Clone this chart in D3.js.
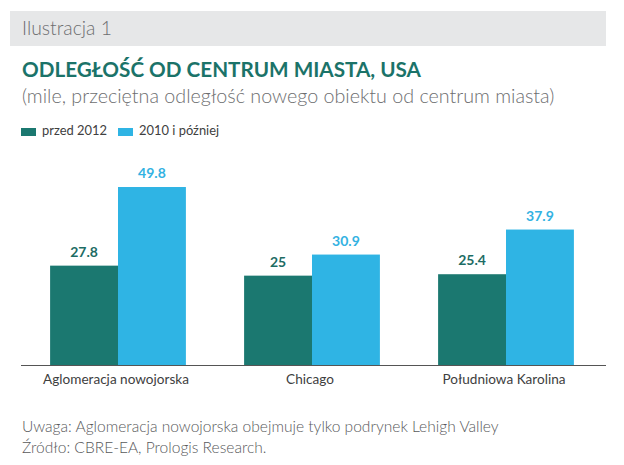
<!DOCTYPE html>
<html><head><meta charset="utf-8">
<script src="https://cdn.jsdelivr.net/npm/d3@7"></script>
<style>
html,body{margin:0;padding:0;background:#fff;}
svg{display:block;font-family:Lato, "Open Sans", sans-serif;}
</style></head>
<body><svg id="chart" width="624" height="465"></svg>
<script>
const categories = ["Aglomeracja nowojorska", "Chicago", "Południowa Karolina"];
const seriesNames = ["przed 2012", "2010 i później"];
const before2012 = [27.8, 25, 25.4];
const after2010 = [49.8, 30.9, 37.9];
const valueLabels = [["27.8","25","25.4"],["49.8","30.9","37.9"]];
const colors = ["#1b7870", "#2fb4e4"];
const labelColors = ["#1d6c64", "#33b2e2"];

const svg = d3.select("#chart");

// scale font size so that text spans target width; returns the new size
function fit(sel, target){
  const fs = parseFloat(sel.attr("font-size"));
  const w = sel.node().getComputedTextLength();
  const nfs = w > 0 ? +(fs*target/w).toFixed(2) : fs;
  sel.attr("font-size", nfs);
  return nfs;
}

// header band
svg.append("rect").attr("x",10).attr("y",11).attr("width",596).attr("height",35).attr("fill","#e6e7e8");
fit(svg.append("text").attr("x",22).attr("y",35).attr("font-size",18).attr("font-weight",300)
  .attr("fill","#6d6e70").text("Ilustracja 1"), 90);
fit(svg.append("text").attr("x",22).attr("y",77).attr("font-size",20).attr("font-weight",700)
  .attr("fill","#1b7369").text("ODLEGŁOŚĆ OD CENTRUM MIASTA, USA"), 399);
fit(svg.append("text").attr("x",22).attr("y",103).attr("font-size",18).attr("font-weight",300)
  .attr("fill","#6d6e70").text("(mile, przeciętna odległość nowego obiektu od centrum miasta)"), 533);

// legend
const legX = [21, 118];
let legFs = 12;
seriesNames.forEach((s,i)=>{
  svg.append("rect").attr("x",legX[i]).attr("y",128).attr("width",15).attr("height",8).attr("fill",colors[i]);
  const t = svg.append("text").attr("x",legX[i]+21).attr("y",135).attr("font-size",legFs).attr("fill","#404040").text(s);
  if (i===0) legFs = fit(t, 65);
});

const x = d3.scaleBand().domain(categories).range([21,603]).paddingInner(0.3).paddingOuter(0.15);
const xs = d3.scaleBand().domain([0,1]).range([0, x.bandwidth()]);
const y = d3.scaleLinear().domain([0,50]).range([365,186.3]);

const series = [before2012, after2010];
series.forEach((vals,si)=>{
  const g = svg.append("g");
  g.selectAll("rect").data(vals).join("rect")
    .attr("x",(d,i)=>x(categories[i])+xs(si))
    .attr("y",d=>y(d))
    .attr("width",xs.bandwidth())
    .attr("height",d=>y(0)-y(d))
    .attr("fill",colors[si]);
  g.selectAll("text").data(vals).join("text")
    .attr("x",(d,i)=>x(categories[i])+xs(si)+xs.bandwidth()/2)
    .attr("y",d=>y(d)-9)
    .attr("text-anchor","middle").attr("font-size",14).attr("font-weight",700)
    .attr("fill",labelColors[si])
    .text((d,i)=>valueLabels[si][i]);
});

const axis = svg.append("g").attr("transform","translate(0,365)")
  .call(d3.axisBottom(x).tickSize(0).tickPadding(9));
axis.select(".domain").attr("stroke","#555").attr("stroke-width",1).attr("d","M21,0.5H606");
const ticks = axis.selectAll("text").attr("font-size",12).attr("fill","#404040")
  .attr("font-family","Lato, sans-serif").attr("dx",-2);
const tickFs = fit(ticks.filter((d,i)=>i===0), 146);
ticks.attr("font-size", tickFs);

const noteFs = fit(svg.append("text").attr("x",22).attr("y",432).attr("font-size",14).attr("font-weight",300)
  .attr("fill","#58595b").text("Uwaga: Aglomeracja nowojorska obejmuje tylko podrynek Lehigh Valley"), 477);
svg.append("text").attr("x",22).attr("y",453).attr("font-size",noteFs).attr("font-weight",300)
  .attr("fill","#58595b").text("Źródło: CBRE-EA, Prologis Research.");
</script></body></html>
